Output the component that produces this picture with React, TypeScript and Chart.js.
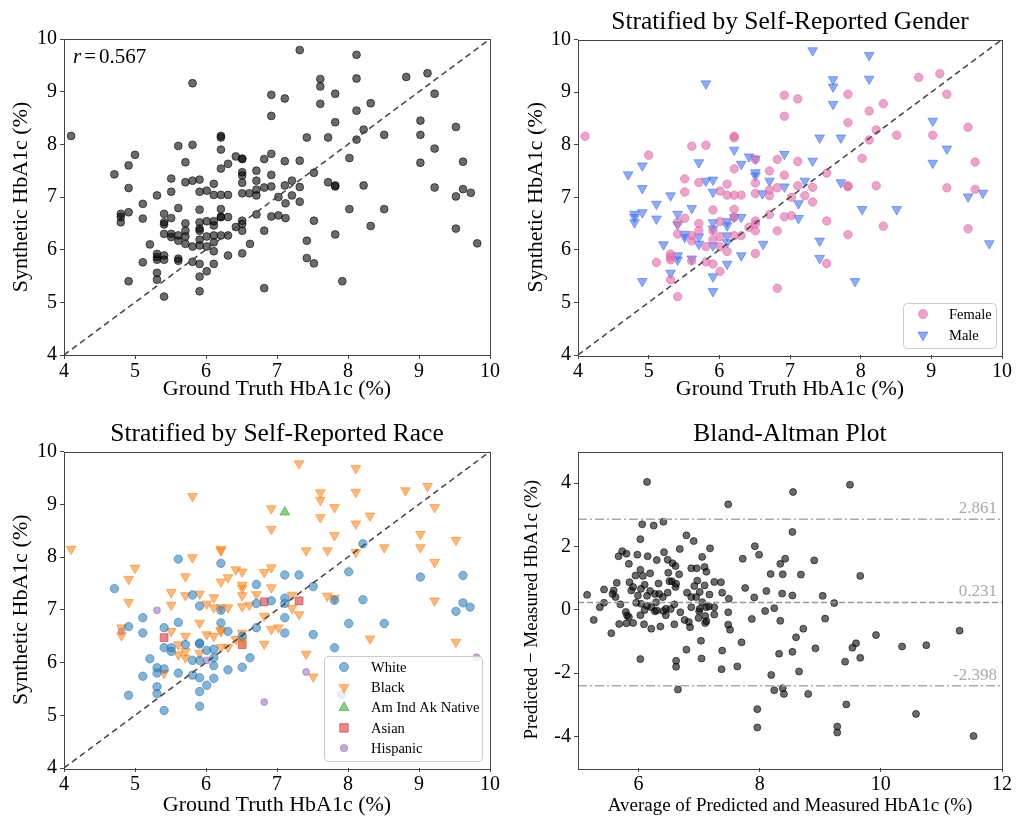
import React, { useEffect, useRef } from "react";
import { Chart, registerables } from "chart.js";
Chart.register(...registerables);

const FONT = '"Liberation Serif", "DejaVu Serif", serif';

// ---------- data: [ground truth, synthetic] ----------
const femalePts: number[][] = [
  [4.10, 8.16], [6.92, 8.94], [6.92, 8.54], [6.21, 8.16], [6.21, 8.13], [5.61, 7.97], [5.81, 7.99], [5.00, 7.80],
  [6.51, 7.72], [6.82, 7.72], [6.21, 7.54], [6.71, 7.50], [6.92, 7.42], [5.51, 7.35], [5.71, 7.28], [6.11, 7.25],
  [6.51, 7.27], [6.82, 7.18], [5.51, 7.10], [6.01, 7.12], [6.11, 7.04], [6.21, 7.04], [6.31, 7.04], [6.51, 7.07],
  [6.71, 7.14], [6.71, 7.03],
  [8.82, 9.28], [9.12, 9.35], [7.11, 8.87], [7.82, 8.96], [9.22, 8.96], [8.32, 8.78], [8.12, 8.64], [7.82, 8.42],
  [9.52, 8.33], [8.22, 8.28], [8.51, 8.18], [9.02, 8.18], [8.12, 8.09], [7.11, 7.68], [8.02, 7.74], [9.62, 7.67],
  [7.52, 7.46], [7.11, 7.22], [7.32, 7.19], [7.82, 7.22], [7.82, 7.20], [8.22, 7.22], [9.22, 7.18], [9.62, 7.15],
  [7.21, 7.03],
  [7.02, 7.00], [7.32, 6.91], [7.02, 6.65], [7.52, 6.55], [8.32, 6.45], [9.52, 6.40], [7.82, 6.29], [7.52, 5.74],
  [5.51, 6.60], [5.91, 6.76], [6.21, 6.77], [5.41, 6.52], [5.71, 6.50], [6.01, 6.54], [6.21, 6.62], [6.51, 6.55],
  [6.51, 6.49], [6.71, 6.67], [6.92, 6.63], [6.42, 6.43], [6.51, 6.36], [6.82, 6.36], [5.91, 6.36], [5.41, 6.30],
  [5.61, 6.27], [5.61, 6.17], [5.71, 6.36], [5.91, 6.19], [6.01, 6.25], [6.21, 6.27], [6.31, 6.27], [5.81, 6.06],
  [6.01, 6.06], [6.11, 5.97], [6.51, 5.93], [5.31, 5.92], [5.31, 5.86], [5.31, 5.81], [5.11, 5.76], [5.61, 5.79],
  [5.81, 5.77], [5.91, 5.73], [6.01, 5.59], [5.31, 5.43], [6.82, 5.27], [5.41, 5.11],
];

const malePts: number[][] = [
  [5.81, 9.16], [6.21, 7.90], [6.42, 7.77], [6.51, 7.73], [6.92, 7.82], [4.91, 7.60], [5.71, 7.66], [6.31, 7.63],
  [4.71, 7.43], [6.51, 7.47], [6.51, 7.41], [6.71, 7.31], [5.81, 7.31], [5.91, 7.33], [6.92, 7.20], [4.91, 7.17],
  [5.91, 7.10], [6.61, 7.07], [5.31, 7.03],
  [7.32, 9.79], [8.12, 9.70], [7.61, 9.24], [7.61, 9.10], [8.12, 9.25], [7.61, 8.77], [9.02, 8.45], [7.42, 8.13],
  [7.72, 8.13], [9.22, 7.92], [7.32, 7.69], [9.02, 7.65], [7.21, 7.31], [7.72, 7.28], [9.52, 7.01], [9.73, 7.08],
  [7.12, 6.88], [7.12, 6.60], [8.02, 6.77], [8.51, 6.77], [7.42, 6.17], [9.82, 6.12], [7.42, 5.84], [7.92, 5.40],
  [4.80, 6.68], [4.91, 6.71], [4.80, 6.62], [4.80, 6.52], [5.11, 6.87], [5.11, 6.59], [5.41, 6.68], [5.61, 6.79],
  [5.41, 6.48], [5.91, 6.52], [6.11, 6.54], [6.11, 6.46], [6.21, 6.62], [6.31, 6.62], [5.91, 6.40], [5.51, 6.30],
  [5.51, 6.24], [5.71, 6.25], [5.71, 6.11], [5.91, 6.08], [6.11, 6.27], [6.11, 6.14], [5.21, 6.10], [6.62, 6.11],
  [6.31, 5.89], [5.41, 5.89], [5.41, 5.81], [5.61, 5.83], [6.11, 5.73], [5.31, 5.56], [5.91, 5.49], [4.91, 5.40],
  [5.91, 5.21],
];

const whitePts: number[][] = [
  [5.61, 7.96], [6.21, 7.88], [4.71, 7.40], [6.71, 7.48], [5.81, 7.28], [6.92, 7.17], [6.71, 7.12], [5.91, 7.07],
  [6.21, 6.99], [8.21, 8.25], [7.11, 7.66], [7.31, 7.66], [8.01, 7.72], [9.02, 7.62], [9.62, 7.65], [7.51, 7.44],
  [7.11, 7.22], [7.81, 7.18], [8.21, 7.19], [9.62, 7.13], [9.72, 7.05], [9.52, 6.97], [7.11, 7.12], [7.11, 6.85],
  [7.11, 6.56], [8.01, 6.74], [8.51, 6.74], [7.51, 6.53], [7.81, 6.28], [7.91, 5.39], [5.11, 6.85], [4.91, 6.68],
  [5.11, 6.56], [5.41, 6.66], [5.61, 6.76], [6.21, 6.75], [6.31, 6.59], [6.51, 6.50], [6.71, 6.66], [5.41, 6.28],
  [5.51, 6.28], [5.51, 6.21], [5.71, 6.34], [5.91, 6.37], [5.91, 6.35], [6.01, 6.23], [6.11, 6.25], [5.21, 6.07],
  [5.81, 6.04], [5.91, 6.04], [6.11, 6.09], [6.62, 6.09], [5.31, 5.90], [5.31, 5.80], [5.41, 5.88], [5.61, 5.80],
  [6.11, 5.94], [6.51, 5.91], [6.31, 5.86], [5.11, 5.74], [5.81, 5.76], [5.91, 5.71], [6.11, 5.70], [6.01, 5.57],
  [5.31, 5.54], [5.31, 5.41], [5.91, 5.45], [4.91, 5.38], [5.41, 5.09], [5.91, 5.17],
];

const blackPts: number[][] = [
  [5.81, 9.15], [6.92, 8.92], [6.92, 8.53], [4.10, 8.15], [6.21, 8.15], [6.21, 8.12], [5.81, 7.99], [5.00, 7.79],
  [6.42, 7.76], [6.51, 7.72], [6.82, 7.71], [6.92, 7.80], [4.91, 7.58], [5.71, 7.63], [6.31, 7.61], [6.21, 7.53],
  [6.51, 7.47], [6.51, 7.41], [6.92, 7.42], [5.51, 7.33], [5.71, 7.27], [5.91, 7.30], [6.11, 7.23], [6.51, 7.27],
  [6.71, 7.29], [4.91, 7.14], [5.51, 7.09], [6.01, 7.11], [6.11, 7.04], [6.21, 7.04], [6.31, 7.04], [6.51, 7.06],
  [6.61, 7.09], [7.31, 9.77], [8.11, 9.68], [7.61, 9.22], [7.61, 9.08], [8.11, 9.23], [8.81, 9.26], [9.12, 9.34],
  [7.81, 8.94], [9.22, 8.94], [7.61, 8.75], [8.31, 8.78], [8.11, 8.63], [7.81, 8.41], [9.02, 8.43], [9.52, 8.32],
  [7.41, 8.12], [7.71, 8.12], [8.11, 8.09], [8.51, 8.18], [9.02, 8.18], [9.22, 7.90], [7.21, 7.28], [7.71, 7.26],
  [7.81, 7.22], [9.22, 7.17], [7.21, 7.03], [7.31, 6.91], [7.02, 6.66], [8.31, 6.45], [9.52, 6.39], [7.41, 6.16],
  [7.51, 5.73], [4.81, 6.66], [4.81, 6.51], [5.51, 6.59], [5.91, 6.75], [6.21, 6.59], [6.21, 6.62], [6.01, 6.53],
  [6.11, 6.50], [6.51, 6.56], [6.82, 6.88], [6.92, 6.63], [5.71, 6.50], [5.61, 6.34], [5.61, 6.15], [5.71, 6.21],
  [5.71, 6.09], [5.91, 6.18], [6.21, 6.29], [6.31, 6.29], [6.42, 6.44], [6.51, 6.40], [6.82, 6.35], [5.41, 5.80],
];

const amIndPts: number[][] = [[7.11, 8.85]];
const asianPts: number[][] = [[6.82, 7.15], [7.31, 7.17], [5.41, 6.47], [6.51, 6.34]];
const hispanicPts: number[][] = [[5.31, 6.99], [4.81, 6.59], [6.01, 6.04], [6.82, 5.25], [7.41, 5.82], [9.81, 6.10]];

// Bland-Altman: [average, difference]
const baPts: number[][] = [
  [6.14, 4.04], [7.48, 3.33], [8.55, 3.72], [6.06, 2.70], [6.25, 2.66], [6.41, 2.78], [8.54, 2.46], [6.03, 2.23],
  [6.79, 2.35], [6.91, 2.17], [7.18, 1.94], [6.68, 1.92], [7.92, 2.01], [7.99, 1.74], [5.73, 1.85], [5.67, 1.69],
  [5.80, 1.77], [5.98, 1.74], [6.15, 1.69], [6.30, 1.57], [6.42, 1.82], [6.48, 1.58], [6.56, 1.47], [6.61, 1.38],
  [5.84, 1.45], [7.05, 1.67], [7.72, 1.61], [8.42, 1.61], [8.34, 1.45], [8.38, 1.12], [8.18, 1.13], [6.87, 1.31],
  [6.96, 1.31], [7.09, 1.35], [7.12, 1.20], [6.03, 1.26], [5.95, 1.08], [6.07, 1.07], [6.19, 1.15], [6.49, 1.17],
  [6.67, 1.12], [6.55, 0.90], [6.33, 0.83], [6.97, 0.92], [6.92, 0.75], [7.09, 0.77], [7.25, 0.88], [7.36, 0.87],
  [5.64, 0.85], [5.85, 0.87], [5.91, 0.72], [5.88, 0.61], [5.43, 0.64], [6.10, 0.79], [6.04, 0.66], [5.59, 0.61],
  [5.57, 0.50], [5.62, 0.40], [5.15, 0.47], [6.62, 0.82], [6.61, 0.72], [6.51, 0.90], [6.19, 0.59], [6.48, 0.54],
  [6.14, 0.44], [6.27, 0.50], [6.40, 0.40], [6.34, 0.50], [6.80, 0.54], [6.87, 0.40], [6.95, 0.40], [7.01, 0.56],
  [5.99, 0.45], [5.96, 0.22], [6.04, 0.19], [7.17, 0.48], [7.38, 0.54], [7.76, 0.69], [8.11, 0.59], [8.37, 0.51],
  [8.54, 0.45], [7.49, 0.35], [7.91, 0.39], [5.43, 0.22], [5.70, 0.17], [5.36, 0.08], [6.14, 0.13], [6.21, 0.08],
  [6.30, -0.02], [6.41, -0.04], [6.45, 0.03], [6.53, 0.02], [6.59, 0.17], [6.29, 0.24], [6.87, 0.08], [7.01, 0.03],
  [7.05, 0.24], [7.12, 0.08], [7.16, 0.11], [7.25, 0.08], [5.79, -0.07], [5.81, -0.18], [5.84, -0.23], [6.03, -0.17],
  [6.10, -0.01], [6.27, -0.05], [6.45, -0.17], [6.69, -0.08], [7.00, -0.05], [7.10, -0.20], [7.25, -0.15], [7.48, -0.08],
  [8.09, -0.04], [8.24, 0.05], [8.34, -0.35], [5.26, -0.32], [5.68, -0.45], [5.80, -0.43], [5.91, -0.42], [6.09, -0.46],
  [6.21, -0.60], [6.36, -0.53], [6.59, -0.46], [6.76, -0.32], [6.83, -0.39], [6.85, -0.55], [6.99, -0.26], [7.10, -0.42],
  [7.12, -0.36], [7.48, -0.47], [7.51, -0.63], [7.87, -0.29], [5.55, -0.74], [7.03, -0.98], [6.79, -1.26], [7.38, -1.29],
  [7.70, -1.03], [8.54, -1.33], [6.03, -1.56], [6.62, -1.61], [6.62, -1.80], [7.04, -1.54], [7.37, -1.88], [7.63, -1.79],
  [8.32, -1.39], [8.19, -2.06], [6.65, -2.52], [8.24, -2.54], [8.38, -2.48], [8.40, -2.66], [7.96, -3.14], [7.96, -3.72],
  [9.49, 3.95], [8.90, 1.56], [8.68, 1.11], [9.66, 1.07], [9.04, 0.44], [9.23, 0.21], [9.08, -0.28], [8.72, -0.60],
  [8.60, -0.87], [8.92, -1.22], [9.59, -1.06], [9.53, -1.20], [9.41, -1.64], [9.66, -1.52], [9.92, -0.80], [10.35, -1.16],
  [10.75, -1.12], [11.30, -0.66], [8.65, -1.95], [8.80, -2.66], [9.43, -2.99], [10.58, -3.29], [9.28, -3.69], [9.28, -3.88],
  [11.53, -3.99],
];

const gtTicks = [4, 5, 6, 7, 8, 9, 10];
const baXTicks = [6, 8, 10, 12];
const baYTicks = [-4, -2, 0, 2, 4];
const baLimits = [2.861, 0.231, -2.398];
const rValue = "0.567";

// ---------- styles ----------
const GRAY = "rgba(0,0,0,0.58)";
const PINK = "rgba(226,108,170,0.62)";
const BLUE = "rgba(62,112,245,0.58)";
const C_WHITE = "rgba(31,119,180,0.55)";
const C_BLACK = "rgba(255,127,14,0.55)";
const C_AMIND = "rgba(44,160,44,0.55)";
const C_ASIAN = "rgba(214,39,40,0.55)";
const C_HISP = "rgba(148,103,189,0.55)";

const toXY = (a: number[][]) => a.map(([x, y]) => ({ x, y }));

function drawMarker(ctx: CanvasRenderingContext2D, style: string, x: number, y: number, r: number, color: string) {
  ctx.beginPath();
  if (style === "circle") ctx.arc(x, y, r, 0, Math.PI * 2);
  else if (style === "down") {
    ctx.moveTo(x - r * 0.866, y - r * 0.5);
    ctx.lineTo(x + r * 0.866, y - r * 0.5);
    ctx.lineTo(x, y + r);
    ctx.closePath();
  } else if (style === "up") {
    ctx.moveTo(x - r * 0.866, y + r * 0.5);
    ctx.lineTo(x + r * 0.866, y + r * 0.5);
    ctx.lineTo(x, y - r);
    ctx.closePath();
  } else if (style === "square") {
    const s = r * 0.707;
    ctx.rect(x - s, y - s, 2 * s, 2 * s);
  }
  ctx.fillStyle = color;
  ctx.strokeStyle = color;
  ctx.lineWidth = 1;
  ctx.fill();
  ctx.stroke();
}

const framePlugin = {
  id: "frame",
  afterDraw(chart: any) {
    const { ctx, chartArea: a } = chart;
    ctx.save();
    ctx.strokeStyle = "#444";
    ctx.lineWidth = 1;
    ctx.strokeRect(Math.round(a.left) + 0.5, Math.round(a.top) + 0.5, Math.round(a.right - a.left), Math.round(a.bottom - a.top));
    ctx.restore();
  },
};

type LegendItem = { label: string; style: string; color: string; r: number };
function legendPlugin(items: LegendItem[], box: { x0: number; y0: number; x1: number; y1: number; mx: number; tx: number; iy: number; dy: number }) {
  return {
    id: "customLegend",
    afterDraw(chart: any) {
      const ctx: CanvasRenderingContext2D = chart.ctx;
      ctx.save();
      const rr = 4;
      ctx.beginPath();
      ctx.moveTo(box.x0 + rr, box.y0);
      ctx.lineTo(box.x1 - rr, box.y0);
      ctx.quadraticCurveTo(box.x1, box.y0, box.x1, box.y0 + rr);
      ctx.lineTo(box.x1, box.y1 - rr);
      ctx.quadraticCurveTo(box.x1, box.y1, box.x1 - rr, box.y1);
      ctx.lineTo(box.x0 + rr, box.y1);
      ctx.quadraticCurveTo(box.x0, box.y1, box.x0, box.y1 - rr);
      ctx.lineTo(box.x0, box.y0 + rr);
      ctx.quadraticCurveTo(box.x0, box.y0, box.x0 + rr, box.y0);
      ctx.closePath();
      ctx.fillStyle = "rgba(255,255,255,0.8)";
      ctx.fill();
      ctx.strokeStyle = "#cccccc";
      ctx.lineWidth = 1;
      ctx.stroke();
      items.forEach((it, i) => {
        const y = box.iy + i * box.dy;
        drawMarker(ctx, it.style, box.mx, y, it.r, it.color);
        ctx.fillStyle = "#000";
        ctx.font = `14.5px ${FONT}`;
        ctx.textAlign = "left";
        ctx.textBaseline = "middle";
        ctx.fillText(it.label, box.tx, y + 1);
      });
      ctx.restore();
    },
  };
}

const rPlugin = {
  id: "rText",
  afterDraw(chart: any) {
    const { ctx, chartArea: a } = chart;
    ctx.save();
    ctx.fillStyle = "#000";
    ctx.textBaseline = "alphabetic";
    ctx.textAlign = "left";
    const base = a.top + 24;
    let x = a.left + 9;
    ctx.font = `italic 21px ${FONT}`;
    ctx.fillText("r", x, base);
    x += ctx.measureText("r").width + 3;
    ctx.font = `21px ${FONT}`;
    ctx.fillText("=", x, base);
    x += ctx.measureText("=").width + 3;
    ctx.fillText(rValue, x, base);
    ctx.restore();
  },
};

const baLabelPlugin = {
  id: "baLabels",
  afterDatasetsDraw(chart: any) {
    const { ctx, chartArea: a, scales } = chart;
    ctx.save();
    ctx.fillStyle = "#aaaaaa";
    ctx.font = `17px ${FONT}`;
    ctx.textAlign = "right";
    ctx.textBaseline = "alphabetic";
    baLimits.forEach((v) => {
      ctx.fillText(v.toFixed(3), a.right - 5, scales.y.getPixelForValue(v) - 6);
    });
    ctx.restore();
  },
};

type PanelSpec = {
  left: number; top: number; w: number; h: number;
  padding: { left: number; top: number; right: number; bottom: number };
  title?: string; titlePad?: { top: number; bottom: number };
  yw: number; xh: number;
  xMin: number; xMax: number; yMin: number; yMax: number;
  xTicks: number[]; yTicks: number[];
  xTitle: string; yTitle: string; axisTitleSize: number;
  xTitlePad: number; yTitlePad: number;
};

function axis(isX: boolean, p: PanelSpec) {
  const ticks = isX ? p.xTicks : p.yTicks;
  return {
    type: "linear",
    position: isX ? "bottom" : "left",
    min: isX ? p.xMin : p.yMin,
    max: isX ? p.xMax : p.yMax,
    afterBuildTicks: (s: any) => {
      s.ticks = ticks.map((v) => ({ value: v }));
    },
    afterFit: (s: any) => {
      if (isX) {
        s.height = p.xh;
        s.paddingLeft = 0;
        s.paddingRight = 0;
      } else {
        s.width = p.yw;
        s.paddingTop = 0;
        s.paddingBottom = 0;
      }
    },
    ticks: { font: { family: FONT, size: 20 }, color: "#000", padding: isX ? 1 : 3, maxRotation: 0, autoSkip: false },
    grid: { drawOnChartArea: false, drawTicks: true, tickLength: 4, color: "#444", tickColor: "#444" },
    border: { display: false },
    title: {
      display: true,
      text: isX ? p.xTitle : p.yTitle,
      font: { family: FONT, size: p.axisTitleSize },
      color: "#000",
      padding: isX ? { top: 0, bottom: p.xTitlePad } : { top: p.yTitlePad, bottom: 0 },
    },
  };
}

function makeConfig(p: PanelSpec, datasets: any[], plugins: any[]) {
  return {
    type: "scatter",
    data: { datasets },
    options: {
      animation: false,
      responsive: false,
      devicePixelRatio: 1,
      events: [],
      layout: { padding: p.padding },
      plugins: {
        legend: { display: false },
        tooltip: { enabled: false },
        title: p.title
          ? { display: true, text: p.title, fullSize: false, color: "#000", font: { family: FONT, size: 25.5, weight: "normal" }, padding: p.titlePad }
          : { display: false },
      },
      scales: { x: axis(true, p), y: axis(false, p) },
    },
    plugins: [framePlugin, ...plugins],
  };
}

const diag = {
  type: "line",
  data: [{ x: 4, y: 4 }, { x: 10, y: 10 }],
  borderColor: "#444",
  borderWidth: 1.5,
  borderDash: [6, 4],
  pointRadius: 0,
};

const gtBase = {
  w: 508, h: 409, yw: 64, xh: 54,
  xMin: 4, xMax: 10, yMin: 4, yMax: 10,
  xTicks: gtTicks, yTicks: gtTicks,
  xTitle: "Ground Truth HbA1c (%)", yTitle: "Synthetic HbA1c (%)", axisTitleSize: 22,
  xTitlePad: 7, yTitlePad: 8,
};

const panel1: PanelSpec = { ...gtBase, left: 0, top: 0, padding: { left: 0, top: 39, right: 18, bottom: 0 } };
const panel2: PanelSpec = {
  ...gtBase, left: 508, top: 0, yw: 70, yTitlePad: 15,
  padding: { left: 0, top: 0, right: 14, bottom: 0 },
  title: "Stratified by Self-Reported Gender", titlePad: { top: 7.2, bottom: 1.7 },
};
const panel3: PanelSpec = {
  ...gtBase, left: 0, top: 409, xh: 50, xTitlePad: 0,
  padding: { left: 0, top: 0, right: 18, bottom: 0 },
  title: "Stratified by Self-Reported Race", titlePad: { top: 10.2, bottom: 1.7 },
};
const panel4: PanelSpec = {
  left: 508, top: 409, w: 508, h: 409, yw: 70, xh: 50,
  padding: { left: 0, top: 0, right: 14, bottom: 0 },
  title: "Bland-Altman Plot", titlePad: { top: 10.2, bottom: 1.7 },
  xMin: 5, xMax: 12, yMin: -5, yMax: 5, xTicks: baXTicks, yTicks: baYTicks,
  xTitle: "Average of Predicted and Measured HbA1c (%)", yTitle: "Predicted \u2212 Measured HbA1c (%)",
  axisTitleSize: 19, xTitlePad: 0.6, yTitlePad: 12.6,
};

function circleDs(label: string, pts: number[][], color: string, r: number) {
  return { label, data: toXY(pts), pointStyle: "circle", pointRadius: r, backgroundColor: color, borderColor: color, borderWidth: 1 };
}
function triDs(label: string, pts: number[][], color: string, r: number, rot: number) {
  return { label, data: toXY(pts), pointStyle: "triangle", rotation: rot, pointRadius: r, backgroundColor: color, borderColor: color, borderWidth: 1 };
}

function hline(v: number, color: string, dash: number[]) {
  return {
    type: "line",
    data: [{ x: 5, y: v }, { x: 12, y: v }],
    borderColor: color,
    borderWidth: 1.5,
    borderDash: dash,
    pointRadius: 0,
  };
}

const configs = [
  {
    p: panel1,
    cfg: makeConfig(panel1, [diag, circleDs("All", [...femalePts, ...malePts], GRAY, 3.9)], [rPlugin]),
  },
  {
    p: panel2,
    cfg: makeConfig(
      panel2,
      [diag, circleDs("Female", femalePts, PINK, 4.2), triDs("Male", malePts, BLUE, 5.6, 180)],
      [
        legendPlugin(
          [
            { label: "Female", style: "circle", color: PINK, r: 4.5 },
            { label: "Male", style: "down", color: BLUE, r: 5.8 },
          ],
          { x0: 395.5, y0: 303.5, x1: 488.5, y1: 348.5, mx: 415, tx: 441, iy: 314, dy: 21 }
        ),
      ]
    ),
  },
  {
    p: panel3,
    cfg: makeConfig(
      panel3,
      [
        diag,
        circleDs("White", whitePts, C_WHITE, 4.2),
        triDs("Black", blackPts, C_BLACK, 5.6, 180),
        triDs("Am Ind Ak Native", amIndPts, C_AMIND, 5.6, 0),
        { label: "Asian", data: toXY(asianPts), pointStyle: "rect", pointRadius: 5.5, backgroundColor: C_ASIAN, borderColor: C_ASIAN, borderWidth: 1 },
        circleDs("Hispanic", hispanicPts, C_HISP, 3.4),
      ],
      [
        legendPlugin(
          [
            { label: "White", style: "circle", color: C_WHITE, r: 4.5 },
            { label: "Black", style: "down", color: C_BLACK, r: 5.8 },
            { label: "Am Ind Ak Native", style: "up", color: C_AMIND, r: 5.8 },
            { label: "Asian", style: "square", color: C_ASIAN, r: 6 },
            { label: "Hispanic", style: "circle", color: C_HISP, r: 3.6 },
          ],
          { x0: 324.5, y0: 247.5, x1: 482.5, y1: 352.5, mx: 344, tx: 371, iy: 258, dy: 20.3 }
        ),
      ]
    ),
  },
  {
    p: panel4,
    cfg: makeConfig(
      panel4,
      [
        hline(baLimits[0], "#aaaaaa", [9, 3, 2, 3]),
        hline(baLimits[1], "#999999", [6, 3]),
        hline(baLimits[2], "#aaaaaa", [9, 3, 2, 3]),
        circleDs("Bland-Altman", baPts, GRAY, 3.5),
      ],
      [baLabelPlugin]
    ),
  },
];

function Panel({ p, cfg }: { p: PanelSpec; cfg: any }) {
  const ref = useRef<HTMLCanvasElement>(null);
  useEffect(() => {
    if (!ref.current) return;
    const chart = new Chart(ref.current, cfg);
    return () => chart.destroy();
  }, [cfg]);
  return (
    <canvas
      ref={ref}
      width={p.w}
      height={p.h}
      style={{ position: "absolute", left: p.left, top: p.top, width: p.w, height: p.h, display: "block" }}
    />
  );
}

export default function App() {
  return (
    <div style={{ position: "fixed", left: 0, top: 0, width: 1016, height: 818, background: "#fff" }}>
      {configs.map((c, i) => (
        <Panel key={i} p={c.p} cfg={c.cfg} />
      ))}
    </div>
  );
}
